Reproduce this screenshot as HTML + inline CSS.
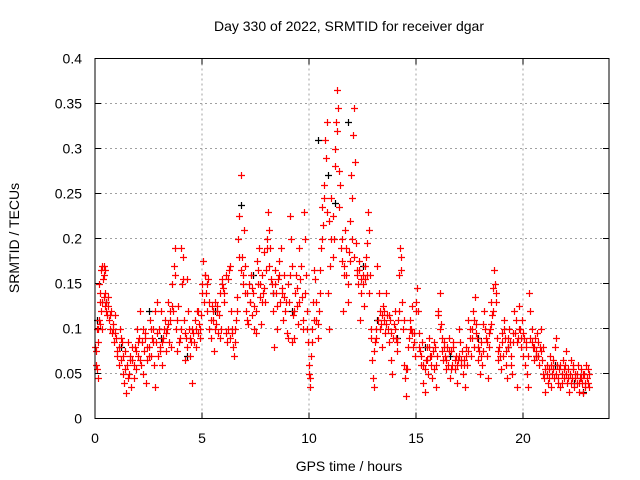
<!DOCTYPE html>
<html><head><meta charset="utf-8">
<style>
html,body{margin:0;padding:0;background:#fff;}
svg{display:block;font-family:"Liberation Sans",Arial,sans-serif;}
</style></head>
<body>
<svg id="chart" width="640" height="480" viewBox="0 0 640 480">
  <rect x="0" y="0" width="640" height="480" fill="#fff"/>
  <text x="349" y="31" font-size="14" text-anchor="middle">Day 330 of 2022, SRMTID for receiver dgar</text>
  <text x="349" y="471" font-size="14" text-anchor="middle">GPS time / hours</text>
  <text x="0" y="0" font-size="14" text-anchor="middle" transform="translate(19,238) rotate(-90)">SRMTID / TECUs</text>
  <g id="grid"></g>
  <g id="ticks"></g>
  <g id="black"></g>
  <g id="red"></g>
  <g id="red2"></g>
  <rect x="95" y="58.5" width="514" height="360" fill="none" stroke="#000" stroke-width="1"/>
</svg>
<script>
const xTicks=[0,5,10,15,20];
const yTicks=[0,0.05,0.1,0.15,0.2,0.25,0.3,0.35,0.4];
const yTickLabels=["0","0.05","0.1","0.15","0.2","0.25","0.3","0.35","0.4"];
const blackSeries=[[0.1,0.11],[0.5,0.13],[1.2,0.08],[2.5,0.12],[3.1,0.09],[4.3,0.07],[5.6,0.12],[6.8,0.237],[7.4,0.16],[8.3,0.14],[9.2,0.12],[10.4,0.31],[10.9,0.27],[11.2,0.24],[11.8,0.33],[12.5,0.17],[13.2,0.11],[14.1,0.09],[15.4,0.08],[16.6,0.07],[17.9,0.09],[19.3,0.08],[20.6,0.07],[21.5,0.06],[22.4,0.04],[22.8,0.03]];
const redSeries=[
[0.02,0.08],[0.05,0.06],[0.08,0.1],[0.1,0.055],[0.12,0.085],[0.15,0.045],[0.18,0.11],[0.2,0.15],[0.22,0.13],[0.25,0.14],[0.28,0.12],[0.3,0.165],[0.33,0.1],[0.35,0.17],[0.38,0.155],[0.4,0.135],[0.43,0.16],[0.45,0.125],[0.48,0.14],[0.5,0.13],[0.55,0.115],[0.6,0.125],[0.65,0.11],[0.7,0.1],[0.75,0.12],[0.8,0.095],[0.85,0.105],[0.9,0.085],[0.95,0.115],[1.0,0.09],[1.05,0.07],[1.1,0.08],[1.15,0.1],[1.2,0.065],[1.25,0.085],[1.3,0.05],[1.35,0.04],[1.4,0.075],[1.45,0.028],[1.5,0.06],[1.55,0.085],[1.6,0.05],[1.65,0.07],[1.7,0.035],[1.75,0.065],[1.8,0.045],[1.85,0.08],[1.9,0.055],[1.95,0.1],[2.0,0.07],[2.05,0.09],[2.1,0.12],[2.15,0.06],[2.2,0.085],[2.25,0.05],[2.3,0.075],[2.35,0.095],[2.4,0.04],[2.45,0.065],[2.5,0.08],[2.55,0.11],[2.6,0.07],[2.65,0.09],[2.7,0.1],[2.75,0.06],[2.8,0.035],[2.85,0.085],[2.9,0.13],[2.95,0.07],[3.0,0.1],[3.05,0.08],[3.1,0.12],[3.15,0.06],[3.2,0.09],[3.25,0.11],[3.3,0.075],[3.35,0.1],[3.4,0.13],[3.45,0.085],[3.5,0.11],[3.55,0.08],[3.6,0.15],[3.65,0.12],[3.7,0.17],[3.75,0.19],[3.8,0.1],[3.85,0.075],[3.9,0.125],[3.95,0.09],[4.0,0.19],[4.05,0.15],[4.1,0.18],[4.15,0.11],[4.2,0.065],[4.25,0.09],[4.3,0.155],[4.35,0.12],[4.4,0.1],[4.45,0.07],[4.5,0.085],[4.55,0.04],[4.6,0.095],[4.65,0.11],[4.7,0.08],[4.75,0.12],[4.8,0.095],[4.85,0.105],[4.9,0.09],[4.95,0.115],[5.0,0.15],[5.05,0.175],[5.1,0.13],[5.15,0.16],[5.2,0.14],[5.25,0.12],[5.3,0.155],[5.35,0.1],[5.4,0.09],[5.45,0.125],[5.5,0.11],[5.55,0.075],[5.6,0.13],[5.65,0.105],[5.7,0.12],[5.75,0.095],[5.8,0.115],[5.85,0.14],[5.9,0.1],[5.95,0.155],[6.0,0.145],[6.05,0.13],[6.1,0.16],[6.15,0.085],[6.2,0.1],[6.25,0.165],[6.3,0.17],[6.35,0.12],[6.4,0.095],[6.45,0.08],[6.5,0.07],[6.55,0.1],[6.6,0.11],[6.65,0.135],[6.7,0.2],[6.75,0.225],[6.8,0.27],[6.85,0.18],[6.9,0.16],[6.95,0.21],[7.0,0.17],[7.05,0.12],[7.1,0.14],[7.15,0.105],[7.2,0.15],[7.25,0.13],[7.3,0.16],[7.35,0.115],[7.4,0.14],[7.45,0.125],[7.5,0.095],[7.55,0.175],[7.6,0.15],[7.65,0.19],[7.7,0.135],[7.75,0.105],[7.8,0.16],[7.85,0.14],[7.9,0.185],[7.95,0.13],[8.0,0.165],[8.05,0.2],[8.1,0.23],[8.15,0.21],[8.2,0.19],[8.25,0.15],[8.3,0.12],[8.35,0.08],[8.4,0.165],[8.45,0.14],[8.5,0.1],[8.55,0.155],[8.6,0.175],[8.65,0.13],[8.7,0.19],[8.75,0.145],[8.8,0.11],[8.85,0.16],[8.9,0.12],[8.95,0.095],[9.0,0.15],[9.05,0.13],[9.1,0.225],[9.15,0.2],[9.2,0.17],[9.25,0.115],[9.3,0.09],[9.35,0.14],[9.4,0.16],[9.45,0.125],[9.5,0.105],[9.55,0.19],[9.6,0.155],[9.65,0.135],[9.7,0.1],[9.75,0.23],[9.8,0.2],[9.85,0.16],[9.9,0.12],[9.95,0.085],[10.0,0.06],[10.03,0.045],[10.06,0.035],[10.1,0.07],[10.15,0.1],[10.2,0.13],[10.25,0.165],[10.3,0.155],[10.35,0.11],[10.4,0.09],[10.45,0.12],[10.5,0.14],[10.55,0.19],[10.6,0.235],[10.65,0.215],[10.7,0.26],[10.75,0.31],[10.8,0.29],[10.85,0.33],[10.9,0.14],[10.95,0.1],[11.0,0.17],[11.05,0.245],[11.1,0.225],[11.15,0.2],[11.2,0.3],[11.25,0.33],[11.3,0.365],[11.35,0.345],[11.4,0.275],[11.45,0.26],[11.5,0.19],[11.55,0.2],[11.6,0.12],[11.65,0.17],[11.7,0.21],[11.75,0.16],[11.8,0.13],[11.85,0.185],[11.9,0.22],[11.95,0.27],[12.0,0.245],[12.05,0.315],[12.1,0.345],[12.15,0.285],[12.2,0.195],[12.25,0.165],[12.3,0.15],[12.35,0.175],[12.4,0.11],[12.45,0.14],[12.5,0.16],[12.55,0.125],[12.6,0.155],[12.65,0.18],[12.7,0.195],[12.75,0.23],[12.8,0.21],[12.85,0.16],[12.9,0.09],[12.95,0.065],[13.0,0.045],[13.05,0.035],[13.1,0.085],[13.15,0.1],[13.2,0.17],[13.25,0.14],[13.3,0.12],[13.35,0.105],[13.4,0.08],[13.45,0.125],[13.5,0.11],[13.55,0.095],[13.6,0.14],[13.65,0.115],[13.7,0.1],[13.75,0.085],[13.8,0.11],[13.85,0.065],[13.9,0.05],[13.95,0.105],[14.0,0.12],[14.05,0.09],[14.1,0.075],[14.15,0.11],[14.2,0.16],[14.25,0.19],[14.3,0.18],[14.35,0.13],[14.4,0.1],[14.45,0.06],[14.5,0.045],[14.55,0.025],[14.6,0.055],[14.65,0.09],[14.7,0.11],[14.75,0.1],[14.8,0.125],[14.85,0.08],[14.9,0.095],[14.95,0.07],[15.0,0.13],[15.05,0.145],[15.1,0.12],[15.15,0.095],[15.2,0.075],[15.25,0.06],[15.3,0.085],[15.35,0.04],[15.4,0.03],[15.45,0.065],[15.5,0.08],[15.55,0.05],[15.6,0.09],[15.65,0.07],[15.7,0.06],[15.75,0.045],[15.8,0.075],[15.85,0.055],[15.9,0.08],[15.95,0.035],[16.0,0.07],[16.05,0.12],[16.1,0.14],[16.15,0.105],[16.2,0.09],[16.25,0.065],[16.3,0.085],[16.35,0.07],[16.4,0.055],[16.45,0.08],[16.5,0.06],[16.55,0.09],[16.6,0.045],[16.65,0.075],[16.7,0.06],[16.75,0.08],[16.8,0.055],[16.85,0.07],[16.9,0.04],[16.95,0.065],[17.0,0.1],[17.05,0.085],[17.1,0.06],[17.15,0.075],[17.2,0.05],[17.25,0.065],[17.3,0.035],[17.35,0.08],[17.4,0.06],[17.45,0.11],[17.5,0.09],[17.55,0.07],[17.6,0.1],[17.65,0.12],[17.7,0.08],[17.75,0.135],[17.8,0.105],[17.85,0.09],[17.9,0.065],[17.95,0.075],[18.0,0.05],[18.05,0.085],[18.1,0.06],[18.15,0.105],[18.2,0.12],[18.25,0.09],[18.3,0.07],[18.35,0.045],[18.4,0.08],[18.45,0.1],[18.5,0.13],[18.55,0.115],[18.6,0.145],[18.65,0.165],[18.7,0.15],[18.75,0.13],[18.8,0.09],[18.85,0.065],[18.9,0.08],[18.95,0.055],[19.0,0.095],[19.05,0.07],[19.1,0.11],[19.15,0.09],[19.2,0.06],[19.25,0.045],[19.3,0.08],[19.35,0.1],[19.4,0.085],[19.45,0.07],[19.5,0.05],[19.55,0.095],[19.6,0.12],[19.65,0.11],[19.7,0.035],[19.75,0.09],[19.8,0.125],[19.85,0.1],[19.9,0.08],[19.95,0.11],[20.0,0.07],[20.05,0.09],[20.1,0.06],[20.15,0.085],[20.2,0.05],[20.25,0.035],[20.3,0.14],[20.35,0.12],[20.4,0.1],[20.45,0.08],[20.5,0.065],[20.55,0.09],[20.6,0.075],[20.65,0.095],[20.7,0.07],[20.75,0.06],[20.8,0.08],[20.85,0.1],[20.9,0.065],[20.95,0.05],[21.0,0.045],[21.05,0.03],[21.1,0.06],[21.15,0.04],[21.2,0.055],[21.25,0.07],[21.3,0.035],[21.35,0.05],[21.4,0.065],[21.45,0.045],[21.5,0.08],[21.55,0.09],[21.6,0.06],[21.65,0.04],[21.7,0.055],[21.75,0.035],[21.8,0.05],[21.85,0.065],[21.9,0.045],[21.95,0.06],[22.0,0.075],[22.05,0.04],[22.1,0.055],[22.15,0.03],[22.2,0.05],[22.25,0.065],[22.3,0.045],[22.35,0.06],[22.4,0.035],[22.45,0.05],[22.5,0.04],[22.55,0.06],[22.6,0.03],[22.65,0.045],[22.7,0.055],[22.75,0.04],[22.8,0.028],[22.85,0.05],[22.9,0.035],[22.95,0.06],[23.0,0.045],[23.05,0.04],[23.1,0.05]
];
const redSeries2=[
[0.03,0.075],[0.13,0.1],[0.23,0.105],[0.32,0.13],[0.42,0.17],[0.46,0.165],[0.52,0.12],[0.62,0.135],[0.72,0.115],[0.82,0.1],[0.92,0.095],[1.02,0.075],[1.12,0.06],[1.22,0.09],[1.32,0.07],[1.42,0.055],[1.52,0.045],[1.62,0.065],[1.72,0.08],[1.82,0.06],[1.92,0.075],[2.02,0.085],[2.12,0.065],[2.22,0.1],[2.32,0.09],[2.42,0.08],[2.52,0.07],[2.62,0.1],[2.72,0.085],[2.82,0.12],[2.92,0.095],[3.02,0.075],[3.12,0.085],[3.22,0.1],[3.32,0.095],[3.42,0.105],[3.52,0.12],[3.62,0.125],[3.72,0.16],[3.82,0.11],[3.92,0.085],[4.02,0.1],[4.12,0.155],[4.22,0.095],[4.32,0.08],[4.42,0.09],[4.52,0.1],[4.62,0.085],[4.72,0.1],[4.82,0.12],[4.92,0.1],[5.02,0.14],[5.12,0.16],[5.22,0.15],[5.32,0.13],[5.42,0.11],[5.52,0.12],[5.62,0.1],[5.72,0.125],[5.82,0.09],[5.92,0.15],[6.02,0.14],[6.12,0.095],[6.22,0.155],[6.32,0.09],[6.42,0.1],[6.52,0.085],[6.62,0.12],[6.72,0.18],[6.82,0.165],[6.92,0.15],[7.02,0.14],[7.12,0.11],[7.22,0.13],[7.32,0.145],[7.42,0.1],[7.52,0.12],[7.62,0.165],[7.72,0.15],[7.82,0.13],[7.92,0.145],[8.02,0.19],[8.12,0.17],[8.22,0.155],[8.32,0.14],[8.42,0.15],[8.52,0.125],[8.62,0.16],[8.72,0.14],[8.82,0.135],[8.92,0.13],[9.02,0.09],[9.12,0.16],[9.22,0.085],[9.32,0.12],[9.42,0.145],[9.52,0.13],[9.62,0.17],[9.72,0.11],[9.82,0.14],[9.92,0.1],[10.02,0.05],[10.12,0.085],[10.22,0.11],[10.32,0.13],[10.42,0.105],[10.52,0.165],[10.62,0.2],[10.72,0.245],[10.82,0.23],[10.92,0.22],[11.02,0.2],[11.12,0.18],[11.22,0.28],[11.32,0.32],[11.42,0.235],[11.52,0.175],[11.62,0.16],[11.72,0.19],[11.82,0.15],[11.92,0.175],[12.02,0.2],[12.12,0.18],[12.22,0.16],[12.32,0.165],[12.42,0.155],[12.52,0.15],[12.62,0.17],[12.72,0.16],[12.82,0.14],[12.92,0.1],[13.02,0.075],[13.12,0.09],[13.22,0.11],[13.32,0.1],[13.42,0.115],[13.52,0.12],[13.62,0.105],[13.72,0.115],[13.82,0.095],[13.92,0.09],[14.02,0.1],[14.12,0.085],[14.22,0.12],[14.32,0.165],[14.42,0.11],[14.52,0.055],[14.62,0.08],[14.72,0.1],[14.82,0.095],[14.92,0.085],[15.02,0.12],[15.12,0.08],[15.22,0.07],[15.32,0.06],[15.42,0.055],[15.52,0.065],[15.62,0.08],[15.72,0.07],[15.82,0.085],[15.92,0.06],[16.02,0.115],[16.12,0.1],[16.22,0.075],[16.32,0.08],[16.42,0.065],[16.52,0.075],[16.62,0.055],[16.72,0.085],[16.82,0.065],[16.92,0.06],[17.02,0.07],[17.12,0.065],[17.22,0.06],[17.32,0.07],[17.42,0.075],[17.52,0.1],[17.62,0.09],[17.72,0.11],[17.82,0.095],[17.92,0.08],[18.02,0.07],[18.12,0.075],[18.22,0.1],[18.32,0.085],[18.42,0.095],[18.52,0.105],[18.62,0.12],[18.72,0.14],[18.82,0.075],[18.92,0.07],[19.02,0.085],[19.12,0.1],[19.22,0.075],[19.32,0.09],[19.42,0.06],[19.52,0.085],[19.62,0.095],[19.72,0.085],[19.82,0.1],[19.92,0.09],[20.02,0.095],[20.12,0.08],[20.22,0.07],[20.32,0.09],[20.42,0.085],[20.52,0.08],[20.62,0.07],[20.72,0.085],[20.82,0.075],[20.92,0.08],[21.02,0.055],[21.12,0.05],[21.22,0.045],[21.32,0.06],[21.42,0.055],[21.52,0.05],[21.62,0.045],[21.72,0.06],[21.82,0.04],[21.92,0.055],[22.02,0.05],[22.12,0.045],[22.22,0.04],[22.32,0.055],[22.42,0.045],[22.52,0.05],[22.62,0.04],[22.72,0.045],[22.82,0.05],[22.92,0.04],[23.02,0.055],[23.08,0.035]
];
const X0=95,PX_PER_H=21.4,Y0=418.5,PX_PER_U=900;
function sx(t){return X0+t*PX_PER_H;}
function sy(v){return Y0-v*PX_PER_U;}
const NS="http://www.w3.org/2000/svg";
const grid=document.getElementById('grid'),ticks=document.getElementById('ticks');
function mk(tag,attrs,parent){const e=document.createElementNS(NS,tag);for(const k in attrs)e.setAttribute(k,attrs[k]);parent.appendChild(e);return e;}
xTicks.forEach(t=>{
  const x=sx(t);
  if(t>0){const g=mk('line',{x1:x,y1:58.5,x2:x,y2:418.5,stroke:'#a0a0a0','stroke-dasharray':'2,3'},grid);
  
  }
  const tk=mk('path',{d:`M${x},418.5v-6M${x},58.5v6`,stroke:'#000'},ticks);
  
  
  const lb=mk('text',{x:x,y:443,'font-size':14,'text-anchor':'middle'},ticks);
  lb.textContent=t;
  
  
});
yTicks.forEach((v,i)=>{
  const y=sy(v);
  if(v>0&&v<0.4){const g=mk('line',{x1:95,y1:y,x2:609,y2:y,stroke:'#a0a0a0','stroke-dasharray':'2,3'},grid);
  
  }
  const tk=mk('path',{d:`M95,${y}h6M609,${y}h-6`,stroke:'#000'},ticks);
  
  
  const lb=mk('text',{x:82,y:y+5,'font-size':14,'text-anchor':'end'},ticks);
  lb.textContent=yTickLabels[i];
  
  
});
function plot(series,gid,color){
  const g=document.getElementById(gid);
  let d='';
  series.forEach(p=>{const x=Math.round(sx(p[0]))+0.5,y=Math.round(sy(p[1]))+0.5;d+=`M${x-3.5},${y}h7M${x},${y-3.5}v7`;});
  const path=mk('path',{d:d,stroke:color,'stroke-width':1.2,fill:'none'},g);
  
  
}
plot(blackSeries,'black','#000');
plot(redSeries,'red','#ff0000');
plot(redSeries2,'red2','#ff0000');
</script>
</body></html>
